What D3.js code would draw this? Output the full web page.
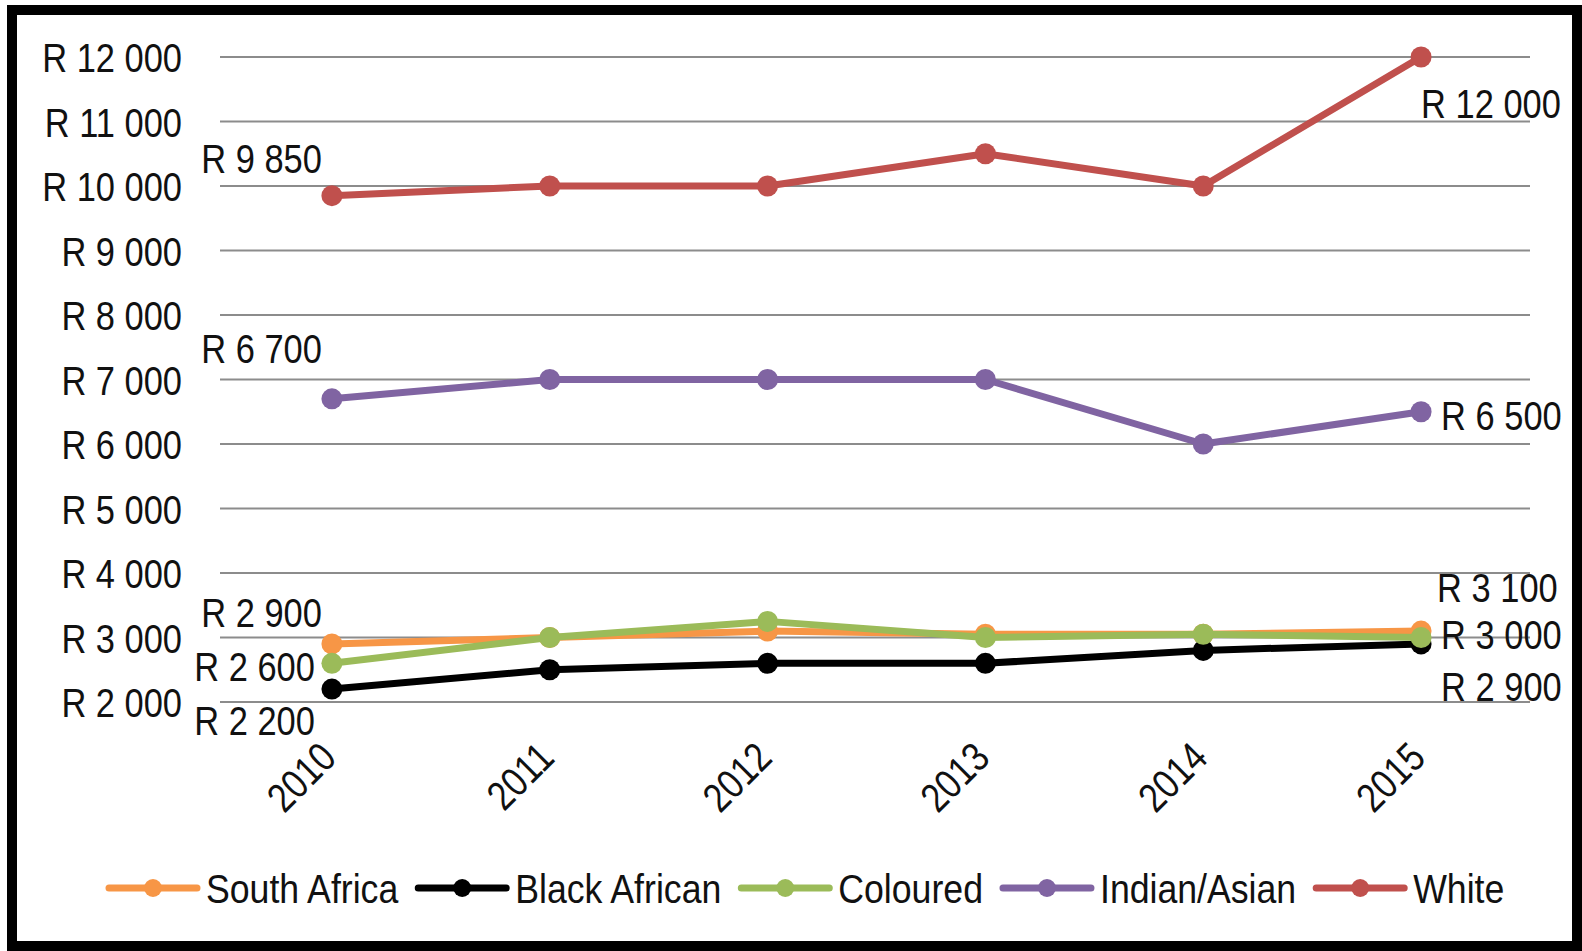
<!DOCTYPE html>
<html>
<head>
<meta charset="utf-8">
<title>Income by population group</title>
<script src="https://d3js.org/d3.v7.min.js"></script>
<style>
  body { margin: 0; background: #fff; }
  text { font-family: "Liberation Sans", Arial, sans-serif; fill: #111; }
</style>
</head>
<body>
<svg width="1582" height="951"></svg>
<script>
    // data
    var years = ["2010", "2011", "2012", "2013", "2014", "2015"];
    var seriesNames = ["South Africa", "Black African", "Coloured", "Indian/Asian", "White"];
    var southAfrica = [2900, 3000, 3100, 3050, 3050, 3100];
    var blackAfrican = [2200, 2500, 2600, 2600, 2800, 2900];
    var coloured = [2600, 3000, 3250, 3000, 3050, 3000];
    var indianAsian = [6700, 7000, 7000, 7000, 6000, 6500];
    var white = [9850, 10000, 10000, 10500, 10000, 12000];
    var yTicks = [2000, 3000, 4000, 5000, 6000, 7000, 8000, 9000, 10000, 11000, 12000];

    var colors = ["#F79646", "#000000", "#9BBB59", "#8064A2", "#C0504D"];
    var allValues = [southAfrica, blackAfrican, coloured, indianAsian, white];

    // label placement for first / last point of each series: [dx, dy, anchor]
    var labelPos = [
        [[-10, -32, "end"], [16, -44, "start"]],
        [[-17, 31, "end"], [20, 42, "start"]],
        [[-17, 3, "end"], [20, -3, "start"]],
        [[-10, -51, "end"], [20, 3, "start"]],
        [[-10, -37, "end"], [0, 46, "start"]]
    ];

    var FS = 41, SQ = 0.84; // font size and horizontal squeeze (narrow font look)
    var SQ_LEG = 0.87;

    var svg = d3.select("svg");

    // frame
    svg.append("rect")
        .attr("x", 12).attr("y", 10)
        .attr("width", 1565).attr("height", 936)
        .attr("fill", "#fff")
        .attr("stroke", "#000")
        .attr("stroke-width", 10);

    var x = d3.scalePoint().domain(years).range([223, 1530]).padding(0.5);
    var y = d3.scaleLinear().domain([2000, 12000]).range([702, 57]);

    function fmt(v) {
        return "R " + d3.format(",")(v).replace(/,/g, " ");
    }

    // text drawn at (px,py) and squeezed horizontally around its anchor
    function addText(parent, px, py, str, anchor, sq) {
        return parent.append("text")
            .attr("transform", "translate(" + px + "," + py + ") scale(" + (sq || SQ) + ",1)")
            .attr("dy", "0.36em")
            .attr("text-anchor", anchor || "start")
            .attr("font-size", FS)
            .text(str);
    }

    // gridlines
    svg.append("g").selectAll("line")
        .data(yTicks)
        .enter().append("line")
        .attr("x1", 220).attr("x2", 1530)
        .attr("y1", function (d) { return y(d); })
        .attr("y2", function (d) { return y(d); })
        .attr("stroke", "#8c8c8c")
        .attr("stroke-width", 2);

    // y axis labels
    var yAxis = d3.axisLeft(y).tickValues(yTicks).tickFormat(fmt).tickSize(0).tickPadding(0);
    var ya = svg.append("g").attr("transform", "translate(182,0)").call(yAxis);
    ya.select(".domain").remove();
    ya.selectAll("text")
        .attr("font-size", FS)
        .attr("font-family", "Liberation Sans, Arial, sans-serif")
        .attr("fill", "#111")
        .attr("x", 0)
        .attr("dy", "0.36em")
        .attr("transform", "scale(" + SQ + ",1)");

    // x axis labels
    var xAxis = d3.axisBottom(x).tickSize(0).tickPadding(0);
    var xa = svg.append("g").attr("transform", "translate(0,760)").call(xAxis);
    xa.select(".domain").remove();
    xa.selectAll("text")
        .attr("font-size", FS)
        .attr("font-family", "Liberation Sans, Arial, sans-serif")
        .attr("fill", "#111")
        .attr("text-anchor", "end")
        .attr("y", 0)
        .attr("dy", 0)
        .attr("transform", "translate(6,0) rotate(-45) scale(" + SQ + ",1)");

    // lines + markers
    var line = d3.line()
        .x(function (d, i) { return x(years[i]); })
        .y(function (d) { return y(d); });

    allValues.forEach(function (vals, s) {
        var g = svg.append("g");
        g.append("path")
            .attr("d", line(vals))
            .attr("fill", "none")
            .attr("stroke", colors[s])
            .attr("stroke-width", 7)
            .attr("stroke-linejoin", "round");
        g.selectAll("circle")
            .data(vals)
            .enter().append("circle")
            .attr("cx", function (d, i) { return x(years[i]); })
            .attr("cy", function (d) { return y(d); })
            .attr("r", 10.5)
            .attr("fill", colors[s]);
    });

    // data labels (first and last points)
    allValues.forEach(function (vals, s) {
        [0, vals.length - 1].forEach(function (i, k) {
            var p = labelPos[s][k];
            addText(svg, x(years[i]) + p[0], y(vals[i]) + p[1], fmt(vals[i]), p[2]);
        });
    });

    // legend
    var lg = svg.append("g").attr("transform", "translate(0,888)");
    var lx = 109;
    seriesNames.forEach(function (name, s) {
        lg.append("line")
            .attr("x1", lx).attr("x2", lx + 88)
            .attr("y1", 0).attr("y2", 0)
            .attr("stroke", colors[s])
            .attr("stroke-width", 7)
            .attr("stroke-linecap", "round");
        lg.append("circle")
            .attr("cx", lx + 44).attr("cy", 0)
            .attr("r", 9)
            .attr("fill", colors[s]);
        var t = addText(lg, lx + 97, 0, name, "start", SQ_LEG);
        lx += 97 + t.node().getComputedTextLength() * SQ_LEG + 20;
    });
</script>
</body>
</html>
